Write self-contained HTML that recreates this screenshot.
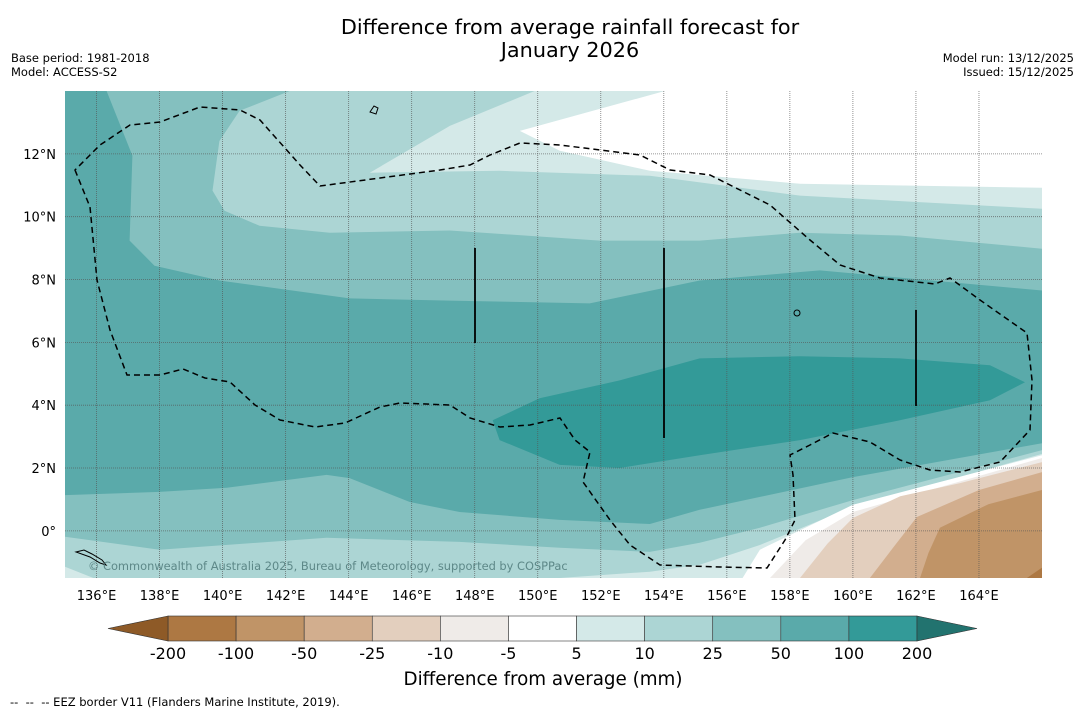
<!DOCTYPE html>
<html><head><meta charset="utf-8"><style>
body{margin:0;background:#fff;width:1085px;height:713px;overflow:hidden;font-family:"Liberation Sans","DejaVu Sans",sans-serif}
svg text{font-family:"DejaVu Sans","Liberation Sans",sans-serif}
</style></head><body>
<svg id="chart" width="1085" height="713" viewBox="0 0 1085 713" xmlns="http://www.w3.org/2000/svg">
<text x="570" y="34" font-size="20.8" text-anchor="middle">Difference from average rainfall forecast for</text>
<text x="570" y="57" font-size="20.8" text-anchor="middle">January 2026</text>
<text x="11" y="62" font-size="11.5">Base period: 1981-2018</text>
<text x="11" y="76" font-size="11.5">Model: ACCESS-S2</text>
<text x="1074" y="62" font-size="11.5" text-anchor="end">Model run: 13/12/2025</text>
<text x="1074" y="76" font-size="11.5" text-anchor="end">Issued: 15/12/2025</text>
<defs><clipPath id="mapclip"><rect x="65" y="91" width="977" height="487"/></clipPath></defs>
<g id="map" clip-path="url(#mapclip)"></g>
<g id="overlay"></g>
<g id="axes"></g>
<g id="cbar"></g>
<text x="543" y="685" font-size="18.3" text-anchor="middle">Difference from average (mm)</text>
<text x="10" y="706" font-size="11.5" xml:space="preserve">--  --  -- EEZ border V11 (Flanders Marine Institute, 2019).</text>
</svg>
<script>
// ---- data ----
const levelLabels=["-200","-100","-50","-25","-10","-5","5","10","25","50","100","200"];
const levelColors=["#ad7843","#c09467","#d2ae8e","#e3cfbe","#efebe8","#ffffff","#d4e9e8","#acd5d4","#84c0bf","#5aaaaa","#339a98"];
const lonTicks=[136,138,140,142,144,146,148,150,152,154,156,158,160,162,164];
const latTicks=[0,2,4,6,8,10,12];
// contour regions: colour index + [[lon,lat],...]
const regionLevels=[9,8,7,6,5,8,7,6,6,5,4,3,2,1,0,10];
const regionShapes=[
[[135,-1.5],[135,14],[166,14],[166,-1.5]],
[[136.32,14],[137.14,11.94],[137.05,9.24],[137.84,8.44],[139.9,7.97],[144.03,7.40],[147.21,7.33],[151.65,7.24],[155.14,7.97],[158.95,8.29],[166,7.65],[166,14]],
[[142.13,14],[140.54,13.37],[139.9,12.41],[139.68,10.83],[140.06,10.19],[141.17,9.71],[143.4,9.49],[147.21,9.56],[151.97,9.24],[155.14,9.24],[158.32,9.49],[161.49,9.40],[166,8.98],[166,14]],
[[149.9,14],[147.21,12.89],[144.67,11.40],[148.79,11.46],[153.56,11.30],[158.32,10.67],[166,10.25],[166,14]],
[[154.03,14],[149.43,12.73],[150.7,12.1],[153.56,11.46],[158.32,11.05],[166,10.92],[166,14]],
[[135,1.14],[138,1.24],[140.13,1.37],[143.3,1.78],[144.03,1.68],[145.94,0.92],[147.52,0.60],[150.7,0.35],[153.56,0.22],[155.14,0.67],[160,1.71],[166,2.79],[166,-1.5],[135,-1.5]],
[[135,-0.19],[138,-0.6],[143.3,-0.22],[147.52,-0.35],[150.7,-0.54],[153.56,-0.67],[155.14,-0.38],[157.05,0.1],[160,0.98],[166,2.57],[166,-1.5],[135,-1.5]],
[[135,-1.14],[135.9,-1.5],[135,-1.5]],
[[150.7,-1.5],[153.56,-1.30],[155.14,-1.08],[157.05,-0.45],[160,0.76],[166,2.45],[166,-1.5]],
[[156.5,-1.5],[157.05,-0.6],[160,0.83],[166,2.41],[166,-1.5]],
[[157.37,-1.5],[158.5,-0.3],[160,0.6],[166,2.32],[166,-1.5]],
[[158.32,-1.5],[159.2,-0.4],[160,0.41],[161.5,1.1],[163.4,1.52],[166,2.19],[166,-1.5]],
[[160.54,-1.5],[161.3,-0.5],[162.03,0.44],[164,1.3],[166,1.87],[166,-1.5]],
[[162.13,-1.5],[162.4,-0.7],[162.76,0.1],[164.3,0.85],[166,1.30],[166,-1.5]],
[[165.52,-1.5],[166,-1.17],[166,-1.5]],
[[148.57,3.52],[150.06,4.22],[152.6,4.79],[155.14,5.49],[158.32,5.56],[161.49,5.49],[164.35,5.27],[165.46,4.73],[164.35,4.16],[161.49,3.52],[158.32,2.89],[155.14,2.41],[152.6,2.0],[150.7,2.10],[148.79,2.89]]
];
// ---- projection ----
const X=lon=>65+(lon-135)*977/31, Y=lat=>578-(lat+1.5)*487/15.5;
const NS="http://www.w3.org/2000/svg";
function mk(tag,attrs,parent){const e=document.createElementNS(NS,tag);for(const k in attrs)e.setAttribute(k,attrs[k]);parent.appendChild(e);return e;}
const map=document.getElementById('map');
regionShapes.forEach((pts,i)=>{
  const p=mk('polygon',{points:pts.map(q=>X(q[0]).toFixed(1)+','+Y(q[1]).toFixed(1)).join(' '),fill:levelColors[regionLevels[i]]},map);
  
  
});
lonTicks.forEach(l=>{const g=mk('line',{x1:X(l),x2:X(l),y1:91,y2:578,stroke:'#555','stroke-width':0.8,'stroke-dasharray':'1,1','stroke-opacity':0.8},map);
  
  });
latTicks.forEach(l=>{const g=mk('line',{x1:65,x2:1042,y1:Y(l),y2:Y(l),stroke:'#555','stroke-width':0.8,'stroke-dasharray':'1,1','stroke-opacity':0.8},map);
  
  });
const ov=document.getElementById('overlay');
const eez="M75,170 L90,207 L97,280 L110,330 L127,375 L160,375 L183,369 L205,378 L230,382 L255,405 L280,420 L315,427 L345,423 L380,407 L400,403 L450,405 L470,418 L500,427 L530,425 L560,418 L575,440 L590,452 L583,482 L610,520 L630,545 L660,565 L720,567 L767,568 L785,540 L795,520 L793,475 L790,455 L810,445 L833,433 L870,442 L900,460 L930,470 L960,472 L1000,462 L1030,430 L1032,380 L1027,333 L980,300 L950,278 L935,284 L880,278 L840,265 L810,240 L770,205 L740,190 L710,175 L670,170 L640,155 L600,150 L560,145 L520,143 L490,155 L470,165 L440,170 L380,178 L320,186 L300,165 L260,120 L240,110 L200,107 L160,122 L130,125 L100,145 Z";
let e=mk('path',{d:eez,fill:'none',stroke:'#000','stroke-width':1.5,'stroke-dasharray':'6,4'},ov);


[[475,248,343],[664,248,438],[916,310,406]].forEach((s,i)=>{const l=mk('line',{x1:s[0],x2:s[0],y1:s[1],y2:s[2],stroke:'#000','stroke-width':1.8},ov);
  
  });
const isl=mk('path',{d:"M76,552 l8,-2 l8,4 l10,6 l4,5 l-6,-2 l-10,-6 Z M370,112 l4,-6 l4,2 l-2,6 Z M794,313 a3,3 0 1,0 6,0 a3,3 0 1,0 -6,0",fill:'none',stroke:'#000','stroke-width':1},ov);


const cr=mk('text',{x:88,y:570,'font-size':11.4,fill:'#4f7a7a','fill-opacity':0.85},ov);
cr.textContent="© Commonwealth of Australia 2025, Bureau of Meteorology, supported by COSPPac";


const ax=document.getElementById('axes');
lonTicks.forEach(l=>{const t=mk('text',{x:X(l),y:600,'font-size':13,'text-anchor':'middle'},ax);t.textContent=l+'°E';
  
  });
latTicks.forEach(l=>{const t=mk('text',{x:56,y:Y(l)+5,'font-size':13,'text-anchor':'end'},ax);t.textContent=l===0?'0°':l+'°N';
  
  });
const cb=document.getElementById('cbar');
const x0=168,x1=917,yt=616,h=25,bw=(x1-x0)/levelColors.length;
levelColors.forEach((c,i)=>{const r=mk('rect',{x:x0+i*bw,y:yt,width:bw,height:h,fill:c,stroke:'#333','stroke-width':0.6},cb);
  
  });
let tl=mk('polygon',{points:`${x0},${yt} 108,${yt+h/2} ${x0},${yt+h}`,fill:'#8e5a27',stroke:'#333','stroke-width':0.6},cb);


let tr=mk('polygon',{points:`${x1},${yt} 977,${yt+h/2} ${x1},${yt+h}`,fill:'#22736f',stroke:'#333','stroke-width':0.6},cb);


levelLabels.forEach((s,i)=>{const t=mk('text',{x:x0+i*bw,y:659,'font-size':16,'text-anchor':'middle'},cb);t.textContent=s;
  
  });
</script>
</body></html>
